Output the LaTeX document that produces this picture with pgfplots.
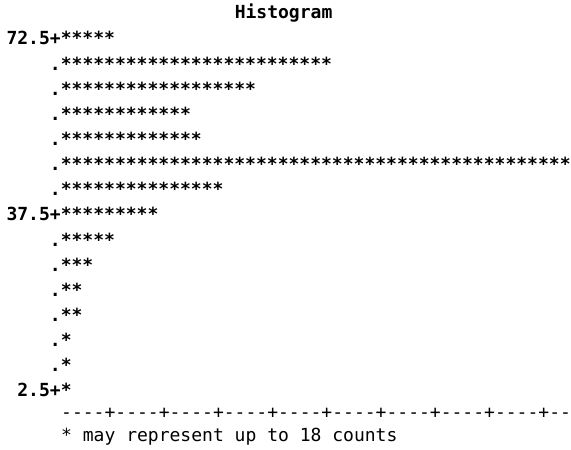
\documentclass[border=0pt]{standalone}
\usepackage{pgfplots}
\pgfplotsset{compat=1.18}
\usepackage{pgfplotstable}
\usepackage{fontspec}
\setmonofont{DejaVu Sans Mono}
\newcommand\sasfont{\ttfamily\fontsize{18.02}{25}\selectfont}
\ExplSyntaxOn
\NewDocumentCommand\stars{m}{\prg_replicate:nn{#1}{*}}
\ExplSyntaxOff
% bin midpoint, number of stars (each star = up to 18 counts)
\pgfplotstableread{
mid n
72.5 5
67.5 25
62.5 18
57.5 12
52.5 13
47.5 47
42.5 15
37.5 9
32.5 5
27.5 3
22.5 2
17.5 2
12.5 1
7.5 1
2.5 1
}\hist
\begin{document}
\begin{tikzpicture}
\begin{axis}[
  x=10.85pt, y=5.028pt,
  xmin=0, xmax=47, ymin=-8.05, ymax=81.45,
  clip=false,
  axis line style={draw=none},
  tick style={draw=none},
  xtick=\empty,
  ytick={2.5,7.5,...,72.5},
  yticklabels={2.5+,.,.,.,.,.,.,37.5+,.,.,.,.,.,.,72.5+},
  yticklabel style={anchor=base east, inner sep=0pt, font=\sasfont\bfseries},
]
\addplot[draw=none, point meta=explicit symbolic,
  nodes near coords={\stars{\pgfplotspointmeta}},
  every node near coord/.append style={anchor=base east, inner sep=0pt, font=\sasfont\bfseries, text=black}]
  table[x=n, y=mid, meta=n] {\hist};
\node[anchor=base west, inner sep=0pt, font=\sasfont\bfseries] at (axis cs:16,77.67) {Histogram};
\node[anchor=base west, inner sep=0pt, font=\sasfont] at (axis cs:0,-1.88) {----+----+----+----+----+----+----+----+----+--};
\node[anchor=base west, inner sep=0pt, font=\sasfont] at (axis cs:0,-6.46) {* may represent up to 18 counts};
\path (axis cs:-5.622,-8.05) rectangle (axis cs:47.005,81.45);
\end{axis}
\end{tikzpicture}
\end{document}
